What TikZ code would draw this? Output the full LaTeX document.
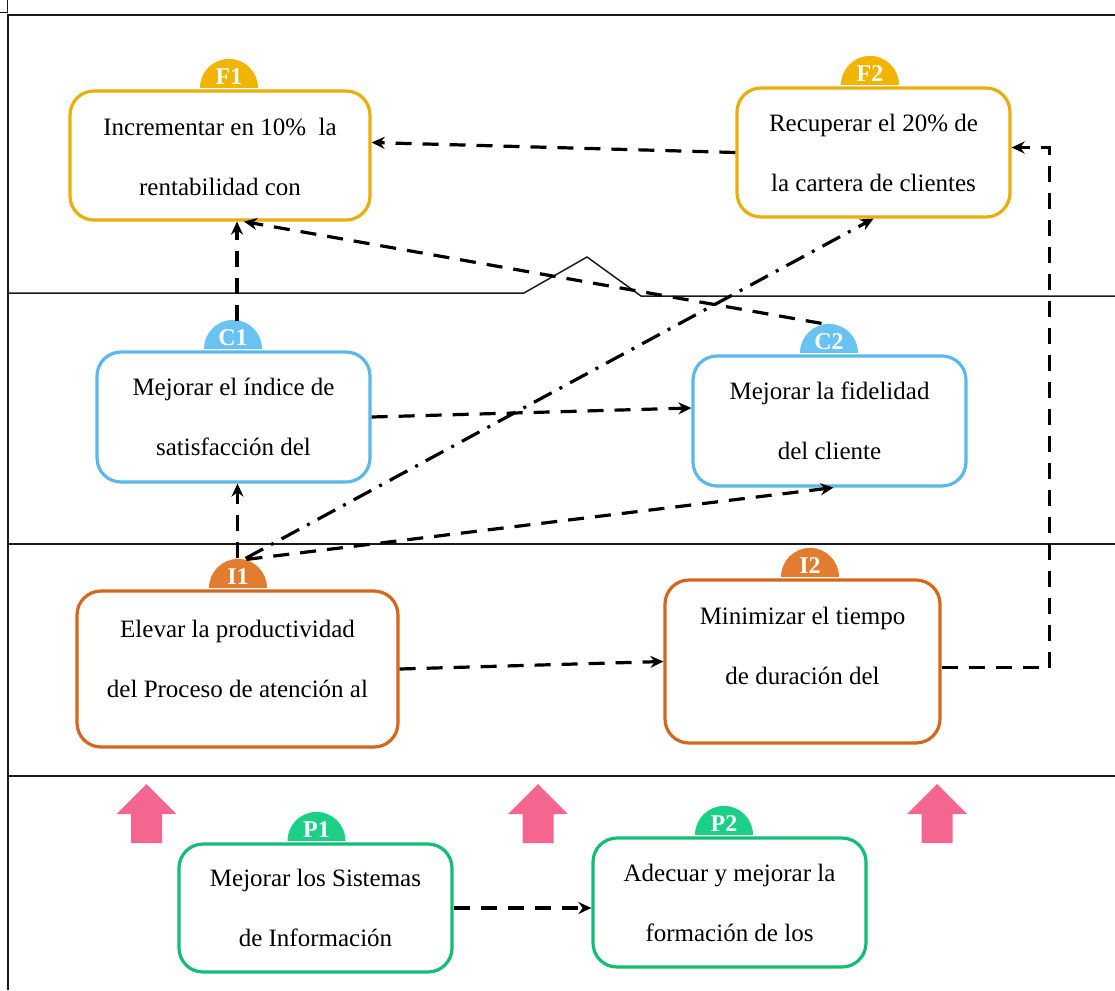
\documentclass[tikz,border=0pt]{standalone}
\usepackage{fontspec}
\setmainfont{LiberationSerif}[Extension=.ttf, UprightFont=*-Regular, BoldFont=*-Bold, ItalicFont=*-Italic, BoldItalicFont=*-BoldItalic]
\usetikzlibrary{arrows.meta,calc}
\definecolor{fgold}{HTML}{E9AD0C}
\definecolor{fgoldb}{HTML}{F1B400}
\definecolor{cblue}{HTML}{5BB9EA}
\definecolor{cblueb}{HTML}{68C2F2}
\definecolor{iorange}{HTML}{D5661C}
\definecolor{iorangeb}{HTML}{E27C30}
\definecolor{pgreen}{HTML}{12BE72}
\definecolor{pgreenb}{HTML}{1CCF86}
\definecolor{upink}{HTML}{F46690}
\definecolor{frame}{HTML}{1A1A1A}
\tikzset{
  obj/.style={draw=#1, fill=white, line width=3.2pt, rounded corners=24pt, inner sep=0pt},
  txt/.style={font=\fontsize{25}{60}\selectfont, align=center, text=black, inner sep=0pt},
  tag/.style={font=\fontsize{24}{24}\selectfont\bfseries, text=white, inner sep=0pt},
  rel/.style={draw=black, line width=3.2pt, dash pattern=on 16pt off 11pt, -{Stealth[length=13pt,width=12pt]}},
  reldot/.style={rel, dash pattern=on 20pt off 9pt on 3pt off 9pt},
  sep/.style={draw=frame, line width=1.5pt},
}

\begin{document}
\begin{tikzpicture}[x=1pt,y=-1pt]
  \useasboundingbox (0,0) rectangle (1115,990);
  % frame and perspective bands
  \draw[sep, line width=1pt] (0,13) -- (7,13) -- (7,0);
  \draw[sep] (8,990) -- (8,15) -- (1115,15);
  \draw[sep] (8,293) -- (524,293) -- (587,257) -- (641,296) -- (1115,296);
  \draw[sep] (8,544) -- (1115,544);
  \draw[sep] (8,776) -- (1115,776);

  % objectives
  \node[obj=fgold, minimum width=300pt, minimum height=129pt] (F1) at (220,155.5) {};
  \node[obj=fgold, minimum width=273pt, minimum height=129pt] (F2) at (873.5,152.5) {};
  \node[obj=cblue, minimum width=273pt, minimum height=130pt] (C1) at (233.5,417) {};
  \node[obj=cblue, minimum width=273pt, minimum height=130pt] (C2) at (829.5,421) {};
  \node[obj=iorange, minimum width=321pt, minimum height=156pt] (I1) at (237.5,669) {};
  \node[obj=iorange, minimum width=275pt, minimum height=163pt] (I2) at (802.5,661.5) {};
  \node[obj=pgreen, minimum width=273pt, minimum height=128pt] (P1) at (315.5,908) {};
  \node[obj=pgreen, minimum width=273pt, minimum height=129pt] (P2) at (729.5,902.5) {};

  \node[txt] (F1txt) at ([yshift=-1pt]F1.center) {Incrementar en 10\%\ \ la\\rentabilidad con};
  \node[txt] (F2txt) at (F2.center) {Recuperar el 20\% de\\la cartera de clientes};
  \node[txt] (C1txt) at (C1.center) {Mejorar el índice de\\satisfacción del};
  \node[txt] (C2txt) at (C2.center) {Mejorar la fidelidad\\del cliente};
  \node[txt] (I1txt) at ([yshift=10.5pt]I1.center) {Elevar la productividad\\del Proceso de atención al};
  \node[txt] (I2txt) at ([yshift=15.5pt]I2.center) {Minimizar el tiempo\\de duración del};
  \node[txt] (P1txt) at (P1.center) {Mejorar los Sistemas\\de Información};
  \node[txt] (P2txt) at (P2.center) {Adecuar y mejorar la\\formación de los};

  % badges
  \foreach \n/\dx/\col in {F1/9/fgoldb, F2/-3.5/fgoldb, C1/-0.5/cblueb, C2/-0.5/cblueb,
                           I1/0.5/iorangeb, I2/7.5/iorangeb, P1/1/pgreenb, P2/-5.5/pgreenb}{
    \fill[\col] ([xshift=\dx pt,yshift=1.5pt]\n.north) ++(29pt,0) arc[start angle=0,end angle=180,radius=29pt] -- cycle;
    \node[tag] (\n-tag) at ([xshift=\dx pt,yshift=13pt]\n.north) {\n};
  }

  % pink arrows
  \foreach \ax in {146.5,538,937}
    \fill[upink] (\ax,784) -- ++(30,30) -- ++(-14.5,0) -- ++(0,29) -- ++(-31,0) -- ++(0,-29) -- ++(-14.5,0) -- cycle;

  % relations
  \draw[rel] (F2.west) -- ([yshift=13pt]F1.east);
  \draw[rel] ([xshift=3.5pt,yshift=29pt]C1.north) -- ([xshift=17pt]F1.south);
  \draw[rel] ([xshift=-8pt,yshift=31pt]C2.north) -- ([xshift=24pt]F1.south);
  \draw[rel] ([yshift=31pt]I1.north) -- ([xshift=4pt]C1.south);
  \draw[reldot] ([xshift=8pt,yshift=31pt]I1.north) -- (F2.south);
  \draw[rel] ([xshift=9pt,yshift=30pt]I1.north) -- ([xshift=4pt]C2.south);
  \draw[rel] (C1.east) -- ([yshift=13pt]C2.west);
  \draw[rel] (I1.east) -- (I2.west);
  \draw[rel] ([yshift=-6pt]I2.east) -- ++(108,0) |- ([yshift=5pt]F2.east);
  \draw[rel] (P1.east) -- (P1.east -| P2.west);
\end{tikzpicture}
\end{document}
